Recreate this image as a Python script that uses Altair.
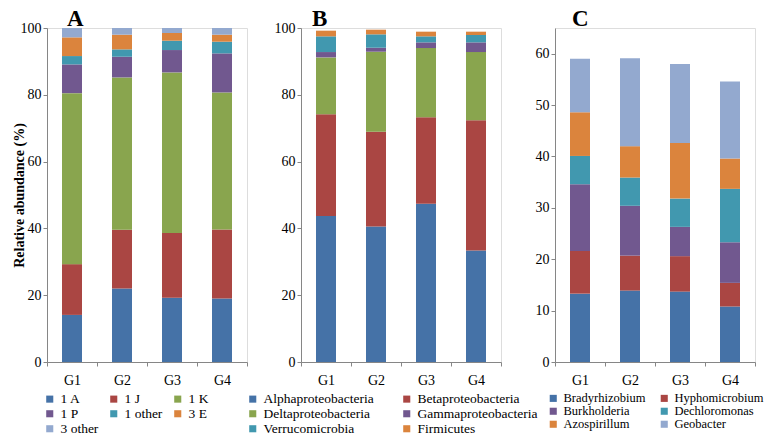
import altair as alt
import pandas as pd

groups = ["G1", "G2", "G3", "G4"]

a_cats = ["1 A", "1 J", "1 K", "1 P", "1 other", "3 E", "3 other"]
a_vals = [
    [14.1, 22.0, 19.2, 19.0],
    [15.2, 17.6, 19.4, 20.7],
    [51.2, 45.6, 48.1, 41.0],
    [8.6, 6.2, 6.7, 11.7],
    [2.5, 2.2, 2.8, 3.5],
    [5.6, 4.4, 2.3, 2.1],
    [2.8, 2.0, 1.5, 2.0],
]

b_cats = ["Alphaproteobacteria", "Betaproteobacteria", "Deltaproteobacteria",
          "Gammaproteobacteria", "Verrucomicrobia", "Firmicutes"]
b_vals = [
    [43.7, 40.6, 47.4, 33.4],
    [30.5, 28.3, 25.9, 39.0],
    [17.0, 24.0, 20.7, 20.4],
    [1.6, 1.2, 1.7, 2.9],
    [4.7, 4.0, 1.8, 2.2],
    [1.7, 1.4, 1.4, 1.0],
]

c_cats = ["Bradyrhizobium", "Hyphomicrobium", "Burkholderia",
          "Dechloromonas", "Azospirillum", "Geobacter"]
c_vals = [
    [13.3, 13.9, 13.7, 10.8],
    [8.3, 6.8, 6.9, 4.6],
    [13.0, 9.7, 5.7, 7.9],
    [5.5, 5.5, 5.5, 10.4],
    [8.5, 6.1, 10.8, 5.9],
    [10.4, 17.1, 15.4, 15.0],
]

palette7 = ["#4572A7", "#AA4643", "#89A54E", "#71588F", "#4198AF", "#DB843D", "#93A9CF"]
palette6_b = ["#4572A7", "#AA4643", "#89A54E", "#71588F", "#4198AF", "#DB843D"]
palette6_c = ["#4572A7", "#AA4643", "#71588F", "#4198AF", "#DB843D", "#93A9CF"]

SERIF = "Liberation Serif"
W, H = 200, 334


def make_df(cats, vals):
    rows = []
    for i, c in enumerate(cats):
        for j, g in enumerate(groups):
            rows.append({"group": g, "taxon": c, "value": vals[i][j], "ord": i})
    return pd.DataFrame(rows)


def panel(cats, vals, colors, letter, dx, ymax, ytitle, legend_x, columns, col_pad, lfs):
    df = make_df(cats, vals)
    yaxis = alt.Axis(
        values=list(range(0, int(ymax) + 1, 10 if ymax < 80 else 20)),
        grid=False, tickSize=4, labelPadding=2,
        labelFont=SERIF, labelFontSize=14, labelColor="#000",
        domainColor="#868686", tickColor="#868686",
        title=ytitle if ytitle else None,
        titleFont=SERIF, titleFontSize=14, titleFontWeight="bold",
        titleColor="#000", titlePadding=-6,
    )
    ydom = [0, 100] if ymax >= 80 else [0, 65]
    bars = alt.Chart(df).mark_bar(width={"band": 0.4}).encode(
        x=alt.X("group:N", sort=groups,
                scale=alt.Scale(paddingInner=0, paddingOuter=0),
                axis=alt.Axis(title=None, labelAngle=0, tickBand="extent",
                              tickSize=4, labelPadding=7,
                              labelFont=SERIF, labelFontSize=14, labelColor="#000",
                              domainColor="#868686", tickColor="#868686")),
        y=alt.Y("sum(value):Q", stack="zero",
                scale=alt.Scale(domain=ydom, nice=False, zero=True),
                axis=yaxis),
        color=alt.Color("taxon:N",
                        scale=alt.Scale(domain=cats, range=colors),
                        legend=alt.Legend(
                            title=None, orient="none", legendX=legend_x, legendY=H + 30,
                            direction="horizontal",
                            columns=columns, columnPadding=col_pad, rowPadding=0,
                            symbolType="square", symbolSize=50, symbolStrokeWidth=0,
                            labelFont=SERIF, labelFontSize=lfs, labelColor="#000",
                            labelOffset=4, padding=0)),
        order=alt.Order("ord:Q", sort="ascending"),
    )
    label = alt.Chart(pd.DataFrame({"t": [letter]})).mark_text(
        font=SERIF, fontSize=23, fontWeight="bold", color="#000",
        align="left", baseline="top",
    ).encode(text="t:N", x=alt.value(dx), y=alt.value(-20))
    return alt.layer(bars, label).properties(width=W, height=H)


pa = panel(a_cats, a_vals, palette7, "A", 20, 100, "Relative abundance  (%)", -4, 3, 8, 13.5)
pb = panel(b_cats, b_vals, palette6_b, "B", 11, 100, None, -55, 2, 26, 13.5)
pc = panel(c_cats, c_vals, palette6_c, "C", 17, 60, None, -8, 2, 12, 12.5)

chart = alt.hconcat(pa, pb, pc, spacing=54, bounds="flush").resolve_scale(
    color="independent", y="independent", x="independent"
).properties(
    autosize=alt.AutoSizeParams(type="none"),
    padding={"left": 39, "top": 20, "right": 722, "bottom": 400},
).configure_view(stroke="#333", strokeWidth=1).configure(background="white")

chart.save("out.html", embed_options={"renderer": "svg", "actions": False})
